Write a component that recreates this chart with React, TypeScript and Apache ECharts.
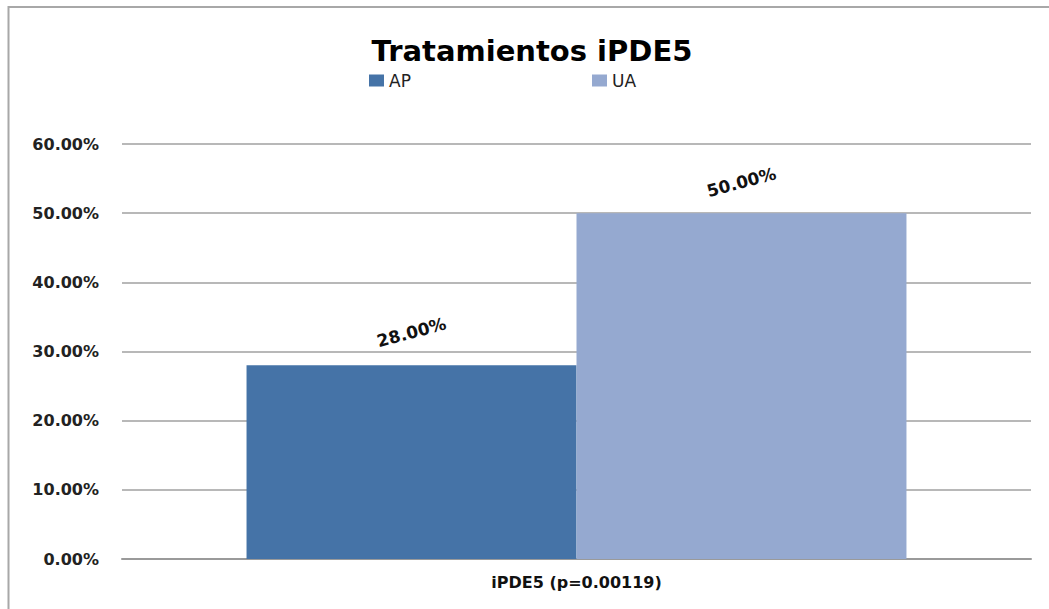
import React, { useEffect, useRef } from "react";
import * as echarts from "echarts";

const categories = ["iPDE5 (p=0.00119)"];
const seriesNames = ["AP", "UA"];
const apValues = [0.28];
const uaValues = [0.5];
const yTicks = [0, 0.1, 0.2, 0.3, 0.4, 0.5, 0.6];

export default function App() {
  const ref = useRef<HTMLDivElement>(null);
  useEffect(() => {
    const chart = echarts.init(ref.current!, null, { renderer: "svg" });
    const labelStyle = {
      show: true,
      position: "top" as const,
      distance: 33,
      rotate: 15,
      align: "center",
      verticalAlign: "middle",
      fontFamily: "DejaVu Sans",
      fontWeight: "bold" as const,
      fontSize: 17,
      color: "#111",
      formatter: (p: any) => (p.value * 100).toFixed(2) + "%",
    };
    const legendText = { fontFamily: "DejaVu Sans", fontSize: 17, color: "#222", padding: [0, 0, 0, 0] };
    chart.setOption({
      animation: false,
      backgroundColor: "#fff",
      title: {
        text: "Tratamientos iPDE5",
        left: 527,
        textAlign: "center",
        top: 31,
        textStyle: { fontFamily: "DejaVu Sans", fontWeight: "bold", fontSize: 29, color: "#000" },
      },
      legend: [
        {
          data: [seriesNames[0]],
          left: 369,
          top: 72,
          itemWidth: 15,
          itemHeight: 12,
          itemGap: 4,
          padding: 0,
          icon: "rect",
          textStyle: legendText,
        },
        {
          data: [seriesNames[1]],
          left: 592,
          top: 72,
          itemWidth: 15,
          itemHeight: 12,
          itemGap: 4,
          padding: 0,
          icon: "rect",
          textStyle: legendText,
        },
      ],
      grid: { left: 122, right: 18, top: 144, bottom: 50, containLabel: false },
      xAxis: {
        type: "category",
        data: categories,
        axisLine: { lineStyle: { color: "#9a9a9a", width: 2 } },
        axisTick: { show: false },
        axisLabel: {
          margin: 15,
          fontFamily: "DejaVu Sans",
          fontWeight: "bold",
          fontSize: 16,
          color: "#111",
        },
      },
      yAxis: {
        type: "value",
        min: yTicks[0],
        max: yTicks[yTicks.length - 1],
        interval: 0.1,
        axisLine: { show: false },
        axisTick: { show: false },
        splitLine: { lineStyle: { color: "#a0a0a0", width: 1.5 } },
        axisLabel: {
          margin: 23,
          fontFamily: "DejaVu Sans",
          fontWeight: "bold",
          fontSize: 16,
          color: "#222",
          formatter: (v: number) => (v * 100).toFixed(2) + "%",
        },
      },
      series: [
        {
          name: seriesNames[0],
          type: "bar",
          data: apValues,
          barGap: "0%",
          barCategoryGap: "27.4%",
          itemStyle: { color: "#4573A7" },
          label: labelStyle,
        },
        {
          name: seriesNames[1],
          type: "bar",
          data: uaValues,
          barGap: "0%",
          barCategoryGap: "27.4%",
          itemStyle: { color: "#95A9D0" },
          label: { ...labelStyle, distance: 31 },
        },
      ],
      graphic: [
        {
          type: "rect",
          shape: { x: 8.5, y: 7, width: 1200, height: 800 },
          style: { fill: "none", stroke: "#a8a8a8", lineWidth: 2 },
          silent: true,
        },
      ],
    });
    return () => chart.dispose();
  }, []);
  return (
    <div
      ref={ref}
      style={{ position: "fixed", left: 0, top: 0, width: 1049, height: 609 }}
    />
  );
}
